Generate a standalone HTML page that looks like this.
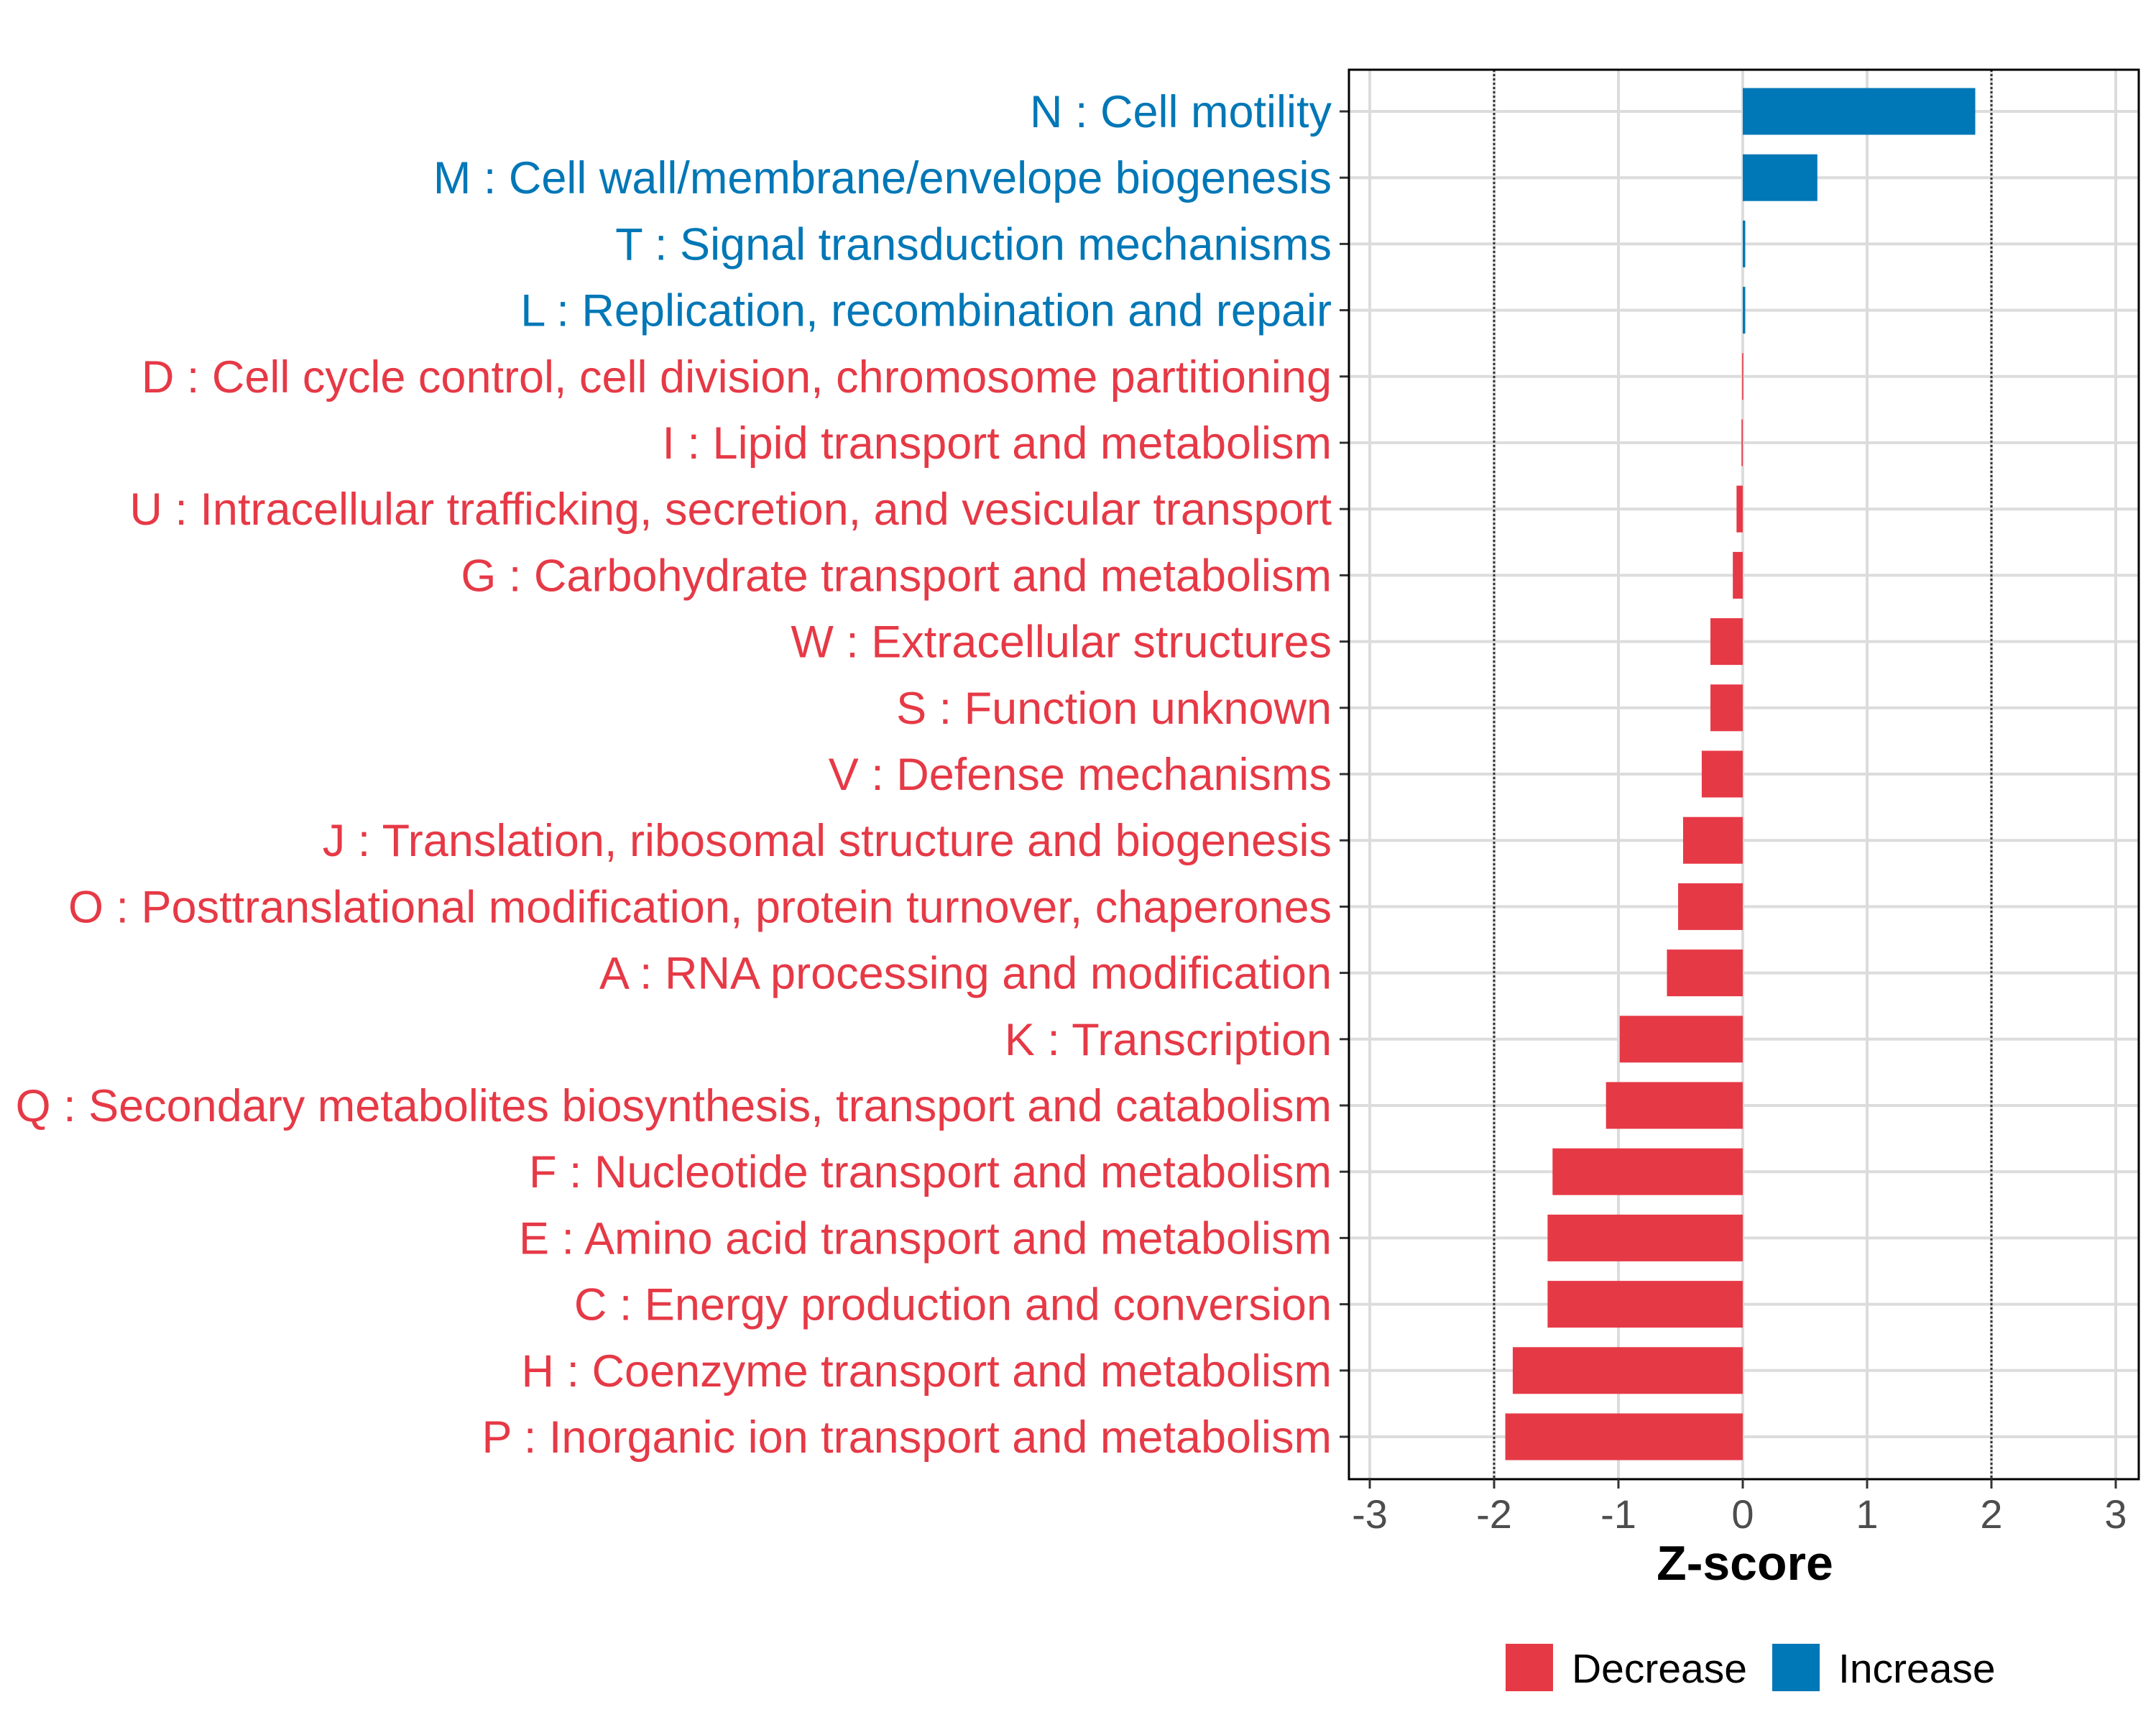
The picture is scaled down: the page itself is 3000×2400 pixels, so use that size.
<!DOCTYPE html>
<html><head><meta charset="utf-8"><style>
html,body{margin:0;padding:0;background:#fff}
svg{display:block;font-family:"Liberation Sans",sans-serif}
</style></head><body>
<svg id="chart" width="3000" height="2400" viewBox="0 0 3000 2400">
<g id="grid"></g>
<g id="bars"></g>
<g id="ylabels"></g>
<g id="xaxis"></g>
<text x="2428" y="2198" font-size="68" font-weight="bold" text-anchor="middle" fill="#000">Z-score</text>
<g>
<rect x="2095" y="2287" width="66" height="66" fill="#E63946"/>
<text x="2187" y="2341" font-size="57" fill="#000">Decrease</text>
<rect x="2466" y="2287" width="66" height="66" fill="#0077B6"/>
<text x="2558" y="2341" font-size="57" fill="#000">Increase</text>
</g>
</svg>
<script>
const categories=["N : Cell motility","M : Cell wall/membrane/envelope biogenesis","T : Signal transduction mechanisms","L : Replication, recombination and repair","D : Cell cycle control, cell division, chromosome partitioning","I : Lipid transport and metabolism","U : Intracellular trafficking, secretion, and vesicular transport","G : Carbohydrate transport and metabolism","W : Extracellular structures","S : Function unknown","V : Defense mechanisms","J : Translation, ribosomal structure and biogenesis","O : Posttranslational modification, protein turnover, chaperones","A : RNA processing and modification","K : Transcription","Q : Secondary metabolites biosynthesis, transport and catabolism","F : Nucleotide transport and metabolism","E : Amino acid transport and metabolism","C : Energy production and conversion","H : Coenzyme transport and metabolism","P : Inorganic ion transport and metabolism"];
const zscores=[1.87,0.6,0.02,0.02,-0.005,-0.01,-0.05,-0.08,-0.26,-0.26,-0.33,-0.48,-0.52,-0.61,-0.99,-1.1,-1.53,-1.57,-1.57,-1.85,-1.91];
const xTicks=[-3,-2,-1,0,1,2,3];
const thresholds=[-2,2];
const NS="http://www.w3.org/2000/svg";
const L=1877,R=2976,T=97,B=2058;
const x=v=>2425+v*173.0;
const y=i=>155+i*92.2;
const bh=65;
function mk(tag,attrs,parent){const e=document.createElementNS(NS,tag);for(const k in attrs)e.setAttribute(k,attrs[k]);parent.appendChild(e);return e;}
const grid=document.getElementById('grid'),bars=document.getElementById('bars'),yl=document.getElementById('ylabels'),xa=document.getElementById('xaxis');
xTicks.forEach(t=>{const g=mk('line',{x1:x(t),x2:x(t),y1:T,y2:B,stroke:'#dcdcdc','stroke-width':4},grid);

});
categories.forEach((c,i)=>{const g=mk('line',{x1:L,x2:R,y1:y(i),y2:y(i),stroke:'#dcdcdc','stroke-width':4},grid);

});
thresholds.forEach(t=>{const d=mk('line',{x1:x(t),x2:x(t),y1:T,y2:B,stroke:'#333','stroke-width':3,'stroke-dasharray':'3,3'},grid);

});
categories.forEach((c,i)=>{const v=zscores[i];const col=v>=0?'#0077B6':'#E63946';
const w=Math.max(Math.abs(x(v)-x(0)),1.5);
const r=mk('rect',{x:Math.min(x(v),x(0)),y:y(i)-bh/2,width:w,height:bh,fill:col},bars);


const t=mk('text',{x:1853,y:y(i)+22,'font-size':63,'text-anchor':'end',fill:col},yl);t.textContent=c;


const tk=mk('line',{x1:1864,x2:L,y1:y(i),y2:y(i),stroke:'#333','stroke-width':3},yl);

});
const fr=mk('rect',{x:L,y:T,width:R-L,height:B-T,fill:'none',stroke:'#000','stroke-width':3},xa);


xTicks.forEach(t=>{const tk=mk('line',{x1:x(t),x2:x(t),y1:B,y2:B+13,stroke:'#333','stroke-width':3},xa);


const lb=mk('text',{x:x(t),y:2126,'font-size':56,'text-anchor':'middle',fill:'#4d4d4d'},xa);lb.textContent=String(t);

});
</script>
</body></html>
